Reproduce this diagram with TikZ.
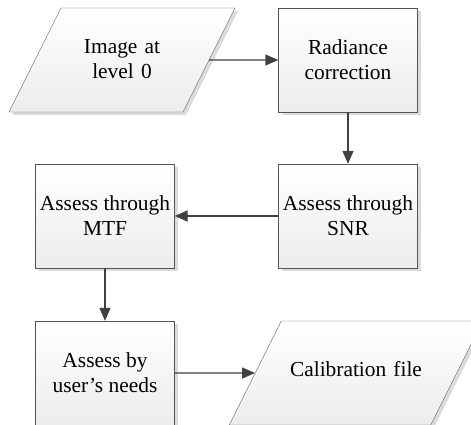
\documentclass[tikz,border=0pt]{standalone}
\usepackage{fontspec}
\setmainfont{Liberation Serif}
\usetikzlibrary{shapes,arrows.meta,shadows}
\definecolor{edgegray}{RGB}{85,85,85}
\definecolor{flowgray}{RGB}{64,64,64}
\definecolor{lowgray}{RGB}{236,236,236}
\tikzstyle{block} = [draw=edgegray, top color=white, bottom color=lowgray, rectangle,
    minimum height=104pt, minimum width=139pt, align=center, inner sep=0pt,
    drop shadow={shadow xshift=3pt, shadow yshift=-3pt, fill=black!20, opacity=0.7}]
\tikzstyle{io} = [draw=edgegray, top color=white, bottom color=lowgray, trapezium,
    trapezium left angle=63.43, trapezium right angle=116.57, align=center, inner sep=0pt,
    drop shadow={shadow xshift=3pt, shadow yshift=-3pt, fill=black!20, opacity=0.7}]
\tikzstyle{flow} = [draw=flowgray, line width=1.4pt, -{Triangle[length=13pt,width=11pt]}]

\begin{document}
\begin{tikzpicture}[node distance=156pt, font=\fontsize{21.4}{25}\selectfont]
    \useasboundingbox (0,-424pt) rectangle (471pt,0);

    \node [block] (radiance) at (348pt,-60pt) {Radiance\\correction};
    \node [io, left of=radiance, node distance=226pt, text width=122pt,
        text height=45.3pt, text depth=58.7pt] (image) {Image at\\level 0};
    \node [block, below of=radiance] (snr) {Assess through\\SNR};
    \node [block, left of=snr, node distance=243pt] (mtf) {Assess through\\MTF};
    \node [block, below of=mtf, node distance=157pt] (needs) {Assess by\\user's needs};
    \node [io, right of=needs, node distance=251pt, text width=149.5pt,
        text height=55pt, text depth=49pt] (calib) {Calibration file};

    \draw [flow] (image) -- (radiance);
    \draw [flow] (radiance) -- (snr);
    \draw [flow] (snr) -- (mtf);
    \draw [flow] (mtf) -- (needs);
    \draw [flow] (needs) -- (calib);
\end{tikzpicture}
\end{document}
